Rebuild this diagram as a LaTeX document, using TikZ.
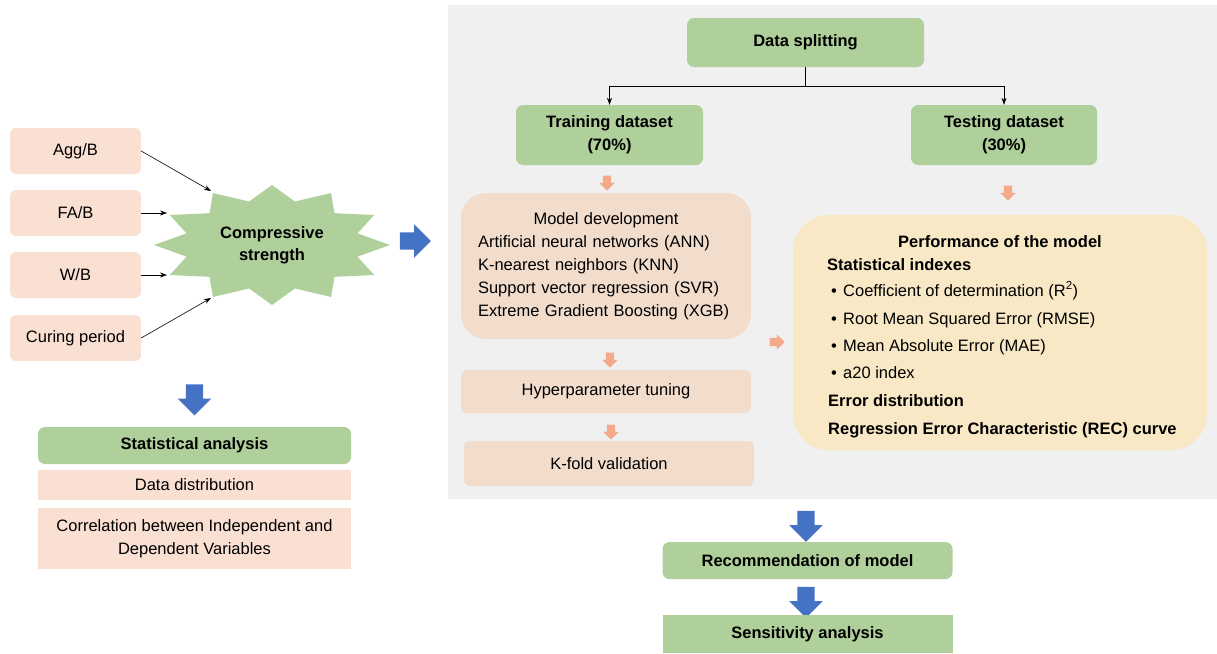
\documentclass[tikz,border=0pt]{standalone}
\usepackage{fontspec}
\setmainfont{Liberation Sans}
\usetikzlibrary{positioning,shapes.arrows,arrows.meta}

\definecolor{bggray}{HTML}{F0F0F0}
\definecolor{boxgreen}{HTML}{B0D09B}
\definecolor{inpeach}{HTML}{F9E0D2}
\definecolor{boxpeach}{HTML}{F2DDCC}
\definecolor{perfyellow}{HTML}{F8E8C5}
\definecolor{arrowblue}{HTML}{4472C4}
\definecolor{arrowpink}{HTML}{F4AA88}

\tikzset{
  txt/.style={font=\fontsize{16.5}{22}\selectfont, inner sep=0pt},
  greenbox/.style={txt, fill=boxgreen, rounded corners=7pt, font=\fontsize{16.5}{22}\selectfont\bfseries, align=center},
  peachbox/.style={txt, fill=boxpeach, rounded corners=6pt, align=center},
  inbox/.style={txt, fill=inpeach, rounded corners=6pt, minimum width=131pt, minimum height=46pt},
  bluearrow/.style={single arrow, fill=arrowblue, inner xsep=0pt, inner ysep=8.5pt, minimum height=31pt, single arrow head extend=8pt},
  pinkarrow/.style={single arrow, fill=arrowpink, inner xsep=0pt, inner ysep=4pt, minimum height=15pt, single arrow head extend=3.5pt},
  link/.style={-{Stealth[length=7pt,width=5pt]}, semithick}
}

\begin{document}
\begin{tikzpicture}[x=1pt,y=-1pt]
 \useasboundingbox (0,0) rectangle (1217,653);

 %Background
 \fill[bggray] (448,5) rectangle (1217,499);

 %Inputs
 \node[inbox] (agg) at (75.5,151) {Agg/B};
 \node[inbox] (fab) at (75.5,213) {FA/B};
 \node[inbox] (wb) at (75.5,275) {W/B};
 \node[inbox] (curing) at (75.5,338) {Curing period};

 %Star
 \fill[boxgreen] (390,245) \foreach \i [evaluate=\i as \r using {mod(\i,2)==0?1:0.75}] in {1,...,23} { -- ({272+118*\r*cos(\i*15)},{245+60*\r*sin(\i*15)}) } -- cycle;
 \node[txt, font=\fontsize{16.5}{22}\selectfont\bfseries, align=center] (cs) at (272,245) {Compressive\\strength};

 %Coordinates
 \coordinate (aggend) at (211,191);
 \coordinate (fabend) at (167,213);
 \coordinate (wbend) at (167,275);
 \coordinate (curingend) at (211,298);

 \draw[link] (agg.east) -- (aggend);
 \draw[link] (fab.east) -- (fabend);
 \draw[link] (wb.east) -- (wbend);
 \draw[link] (curing.east) -- (curingend);

 %Blue arrows
 \node[bluearrow] (toright) at (411,241) {};
 \node[bluearrow, rotate=-90] (tostat) at (194.5,395.5) {};
 \node[bluearrow, rotate=-90] (toreco) at (806,522) {};
 \node[bluearrow, rotate=-90] (tosens) at (806,598) {};

 %Statistical analysis
 \node[greenbox, minimum width=313pt, minimum height=37pt] (statan) at (194.5,445.5) {Statistical analysis};
 \node[txt, fill=inpeach, minimum width=313pt, minimum height=30pt] (datadist) at (194.5,485) {Data distribution};
 \node[txt, fill=inpeach, minimum width=313pt, minimum height=61pt, align=center, font=\fontsize{16.5}{23}\selectfont] (corr) at (194.5,538.5) {Correlation between Independent and\\Dependent Variables};

 %Data splitting
 \node[greenbox, minimum width=237pt, minimum height=49pt] (split) at (805.5,42.5) {Data splitting};
 \node[greenbox, minimum width=187pt, minimum height=60pt, font=\fontsize{16.5}{23}\selectfont\bfseries] (train) at (609.5,135) {Training dataset\\(70\%)};
 \node[greenbox, minimum width=186pt, minimum height=60pt, font=\fontsize{16.5}{23}\selectfont\bfseries] (test) at (1004,135) {Testing dataset\\(30\%)};

 \draw[semithick] (split.south) -- ++(0,19) coordinate (fork);
 \draw[link] (fork) -| (train.north);
 \draw[link] (fork) -| (test.north);

 %Training branch
 \node[pinkarrow, rotate=-90] (p1) at (607,181) {};
 \node[peachbox, rounded corners=25pt, minimum width=290pt, minimum height=146pt, text width=256pt, align=left, font=\fontsize{16.5}{23}\selectfont] (model) at (606,266) {\makebox[256pt]{Model development}\\Artificial neural networks (ANN)\\K-nearest neighbors (KNN)\\Support vector regression (SVR)\\Extreme Gradient Boosting (XGB)};
 \node[pinkarrow, rotate=-90] (p2) at (610,358) {};
 \node[peachbox, minimum width=290pt, minimum height=43pt] (hyper) at (606,391.5) {Hyperparameter tuning};
 \node[pinkarrow, rotate=-90] (p3) at (611,430) {};
 \node[peachbox, minimum width=290pt, minimum height=45pt] (kfold) at (609,463.5) {K-fold validation};

 %Testing branch
 \node[pinkarrow, rotate=-90] (p4) at (1008,191) {};
 \node[pinkarrow] (p5) at (775,342) {};
 \node[txt, fill=perfyellow, rounded corners=36pt, minimum width=414pt, minimum height=235pt] (perf) at (1000,332.5) {};

 \node[txt, font=\fontsize{16.5}{22}\selectfont\bfseries, anchor=base] (perftitle) at (1000,247) {Performance of the model};
 \node[txt, font=\fontsize{16.5}{22}\selectfont\bfseries, anchor=base west] (statidx) at (827,270) {Statistical indexes};
 \foreach \y/\name/\txt in {296/coef/{Coefficient of determination (R\textsuperscript{2})},
                             324/rmse/{Root Mean Squared Error (RMSE)},
                             351/mae/{Mean Absolute Error (MAE)},
                             378/atwenty/{a20 index}}
 {
  \node[txt, anchor=base] (b\name) at (834,\y) {\textbullet};
  \node[txt, anchor=base west] (\name) at (843,\y) {\txt};
 }
 \node[txt, font=\fontsize{16.5}{22}\selectfont\bfseries, anchor=base west] (errdist) at (828,406) {Error distribution};
 \node[txt, font=\fontsize{16.5}{22}\selectfont\bfseries, anchor=base west] (rec) at (828,434) {Regression Error Characteristic (REC) curve};

 %Recommendation
 \node[greenbox, minimum width=290pt, minimum height=37pt] (reco) at (807.5,560.5) {Recommendation of model};
 \node[txt, fill=boxgreen, font=\fontsize{16.5}{22}\selectfont\bfseries, minimum width=290pt, minimum height=38pt] (sens) at (807.5,634) {Sensitivity analysis};

\end{tikzpicture}
\end{document}
